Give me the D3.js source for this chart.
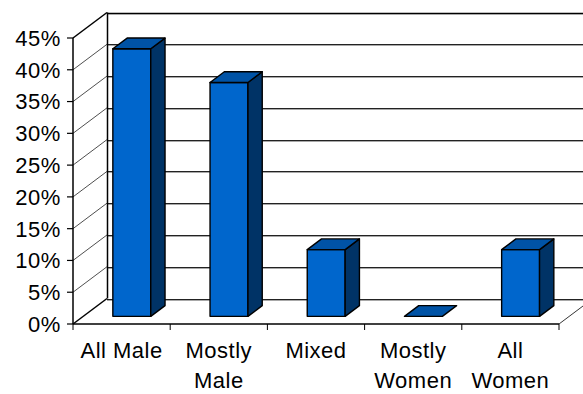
<!DOCTYPE html>
<html>
<head>
<meta charset="utf-8">
<script src="https://cdn.jsdelivr.net/npm/d3@7"></script>
<style>
  html, body { margin: 0; padding: 0; background: #fff; }
  svg { display: block; }
  text { font-family: "Liberation Sans", Arial, sans-serif; fill: #000; }
</style>
</head>
<body>
<svg id="chart" width="583" height="394"></svg>
<script>
// Share of groups by gender composition
const categories = ["All Male", "Mostly Male", "Mixed", "Mostly Women", "All Women"];
const values = [42.1, 36.8, 10.5, 0, 10.5];
const yTicks = [0, 5, 10, 15, 20, 25, 30, 35, 40, 45];

const W = 583, H = 394;
const svg = d3.select("#chart");

// front plane of the 3-D box
const left = 73, right = 559, floorY = 324, topY = 38;
// depth offset of the back plane
const DX = 34, DY = -25.5;
const depth = d => [DX * d, DY * d];

const x = d3.scaleBand().domain(categories).range([left, right]).padding(0);
const y = d3.scaleLinear().domain([0, 45]).range([floorY, topY]);

const barFrac = 0.39, d0 = 0.3, d1 = 0.72;
const cFront = "#0066cc", cTop = "#0053a6", cSide = "#003366";

// back wall gridlines (dark line with light shadow underneath)
const g = svg.append("g");
yTicks.forEach(t => {
  const yy = Math.round(y(t) + DY) + 0.5;
  g.append("line").attr("x1", left + DX).attr("x2", W).attr("y1", yy).attr("y2", yy)
    .attr("stroke", t === 45 ? "#000" : "#222").attr("stroke-width", t === 45 ? 1.6 : 1);
  g.append("line").attr("x1", left + DX).attr("x2", W).attr("y1", yy + 1).attr("y2", yy + 1)
    .attr("stroke", "#a8a8a8").attr("stroke-width", 1);
  // side wall diagonal
  g.append("line").attr("x1", left).attr("y1", y(t)).attr("x2", left + DX).attr("y2", y(t) + DY)
    .attr("stroke", t === 45 || t === 0 ? "#000" : "#222")
    .attr("stroke-width", t === 45 || t === 0 ? 1.5 : 0.8);
});
// back wall left edge
g.append("line").attr("x1", left + DX + 0.5).attr("x2", left + DX + 0.5)
  .attr("y1", y(45) + DY).attr("y2", y(0) + DY).attr("stroke", "#000").attr("stroke-width", 1.5);
// floor right edge
g.append("line").attr("x1", right).attr("y1", floorY).attr("x2", right + DX).attr("y2", floorY + DY)
  .attr("stroke", "#000").attr("stroke-width", 0.8);

// bars
const bars = svg.append("g").attr("stroke", "#000").attr("stroke-width", 1.4).attr("stroke-linejoin", "round");
categories.forEach((c, i) => {
  const v = values[i];
  const bw = x.bandwidth() * barFrac;
  const xl = x(c) + x.bandwidth() / 2 - bw / 2;
  const [fx, fy] = depth(d0);
  const [bx, by] = depth(d1);
  const X0 = xl + fx, X1 = xl + bw + fx;
  const Yt = y(v) + fy, Yb = y(0) + fy;
  const pts = a => a.map(p => p.join(",")).join(" ");
  if (v > 0) {
    bars.append("polygon").attr("fill", cFront)
      .attr("points", pts([[X0, Yt], [X1, Yt], [X1, Yb], [X0, Yb]]));
    bars.append("polygon").attr("fill", cSide)
      .attr("points", pts([[X1, Yt], [X1 + bx - fx, Yt + by - fy], [X1 + bx - fx, Yb + by - fy], [X1, Yb]]));
  }
  bars.append("polygon").attr("fill", cTop)
    .attr("points", pts([[X0, Yt], [X1, Yt], [X1 + bx - fx, Yt + by - fy], [X0 + bx - fx, Yt + by - fy]]));
});

// front axes
const ax = svg.append("g");
ax.append("line").attr("x1", left).attr("x2", left).attr("y1", topY).attr("y2", floorY)
  .attr("stroke", "#000").attr("stroke-width", 1.5);
ax.append("line").attr("x1", left).attr("x2", right).attr("y1", floorY).attr("y2", floorY)
  .attr("stroke", "#000").attr("stroke-width", 1.5);
yTicks.forEach(t => {
  ax.append("line").attr("x1", left - 6).attr("x2", left).attr("y1", y(t)).attr("y2", y(t))
    .attr("stroke", "#000").attr("stroke-width", 1.2);
  ax.append("text").attr("x", 61).attr("y", y(t)).attr("dy", "0.36em")
    .attr("text-anchor", "end").attr("font-size", 22).attr("letter-spacing", 0.6)
    .text(t + "%");
});
const catEdges = categories.map(c => x(c)).concat([right]);
catEdges.forEach(e => {
  ax.append("line").attr("x1", e).attr("x2", e).attr("y1", floorY).attr("y2", floorY + 6)
    .attr("stroke", "#000").attr("stroke-width", 1);
});

// category labels, wrapped to fit the band width
categories.forEach(c => {
  const cx = x(c) + x.bandwidth() / 2;
  const t = ax.append("text").attr("x", cx).attr("y", 358).attr("text-anchor", "middle")
    .attr("font-size", 22).attr("letter-spacing", 0.5);
  t.text(c);
  if (t.node().getComputedTextLength() > x.bandwidth() - 8) {
    const words = c.split(" ");
    t.text(null);
    words.forEach((w, k) => {
      t.append("tspan").attr("x", cx).attr("y", 358 + k * 30).text(w);
    });
  }
});
</script>
</body>
</html>
